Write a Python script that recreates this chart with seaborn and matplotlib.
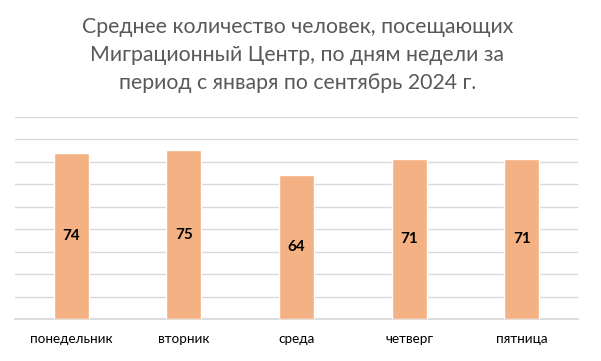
import matplotlib
matplotlib.use("Agg")
import matplotlib.pyplot as plt
import seaborn as sns
import pandas as pd

days = ["понедельник", "вторник", "среда", "четверг", "пятница"]
values = [74, 75, 64, 71, 71]
title_lines = ["Среднее количество человек, посещающих",
               "Миграционный Центр, по дням недели за",
               "период с января по сентябрь 2024 г."]

sns.set_theme(style="white")
plt.rcParams['font.family'] = ['Lato', 'DejaVu Sans']

df = pd.DataFrame({"day": days, "value": values})

fig = plt.figure(figsize=(6.01, 3.61), dpi=100)
ax = fig.add_axes([15/601, 41.7/361, 563/601, 202.6/361])

sns.barplot(data=df, x="day", y="value", color="#F4B183", saturation=1,
            width=0.31, ax=ax, zorder=3)
ax.set_ylim(0, 90)
ax.set_yticks(range(0, 91, 10))
ax.yaxis.grid(True, color="#D9D9D9", linewidth=1)
ax.set_axisbelow(True)
ax.tick_params(axis='y', left=False, labelleft=False)
ax.tick_params(axis='x', bottom=False, labelsize=9.7, colors="black", pad=4)
for s in ["top", "right", "left"]:
    ax.spines[s].set_visible(False)
ax.spines["bottom"].set_color("#D9D9D9")
ax.set_xlabel("")
ax.set_ylabel("")
for c in ax.containers:
    ax.bar_label(c, label_type="center", fontsize=11, fontweight="bold", color="black")

for line, yb in zip(title_lines, [33, 61, 89]):
    fig.text(297.5/601, 1 - yb/361, line, ha="center", va="baseline",
             fontsize=15.3, color="#595959")

fig.savefig("out.png", dpi=100)
